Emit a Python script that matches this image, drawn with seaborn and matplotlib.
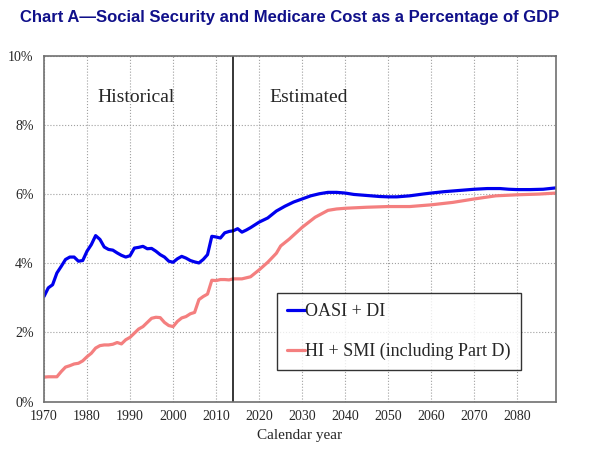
import pandas as pd
import seaborn as sns
import matplotlib.pyplot as plt
from matplotlib.ticker import MultipleLocator, FuncFormatter

# OASI + DI cost, % of GDP
oasdi_years = [1970, 1971, 1972, 1973, 1974, 1975, 1976, 1977, 1978, 1979,
               1980, 1981, 1982, 1983, 1984, 1985, 1986, 1987, 1988, 1989,
               1990, 1991, 1992, 1993, 1994, 1995, 1996, 1997, 1998, 1999,
               2000, 2001, 2002, 2003, 2004, 2005, 2006, 2007, 2008, 2009,
               2010, 2011, 2012, 2013, 2014, 2015, 2016, 2017, 2018, 2019,
               2020, 2022, 2024, 2026, 2028, 2030, 2032, 2034, 2036, 2038,
               2040, 2042, 2045, 2048, 2050, 2052, 2055, 2058, 2060, 2063,
               2066, 2070, 2073, 2076, 2078, 2080, 2083, 2086, 2089]
oasdi = [3.04, 3.29, 3.38, 3.72, 3.91, 4.11, 4.18, 4.18, 4.06, 4.08,
         4.35, 4.54, 4.80, 4.69, 4.47, 4.40, 4.38, 4.30, 4.23, 4.18,
         4.22, 4.44, 4.46, 4.49, 4.42, 4.43, 4.35, 4.25, 4.18, 4.06,
         4.03, 4.13, 4.20, 4.15, 4.08, 4.04, 4.01, 4.11, 4.25, 4.78,
         4.76, 4.73, 4.88, 4.92, 4.94, 5.00, 4.90, 4.96, 5.03, 5.11,
         5.19, 5.31, 5.51, 5.65, 5.77, 5.86, 5.95, 6.01, 6.05, 6.05,
         6.03, 5.99, 5.96, 5.93, 5.92, 5.92, 5.95, 6.00, 6.03, 6.07,
         6.10, 6.14, 6.16, 6.16, 6.14, 6.13, 6.13, 6.14, 6.18]

# HI + SMI cost, % of GDP
hismi_years = [1970, 1971, 1972, 1973, 1974, 1975, 1976, 1977, 1978, 1979,
               1980, 1981, 1982, 1983, 1984, 1985, 1986, 1987, 1988, 1989,
               1990, 1991, 1992, 1993, 1994, 1995, 1996, 1997, 1998, 1999,
               2000, 2001, 2002, 2003, 2004, 2005, 2006, 2007, 2008, 2009,
               2010, 2011, 2012, 2013, 2014, 2016, 2018, 2020, 2022, 2024,
               2025, 2027, 2030, 2033, 2036, 2038, 2040, 2045, 2050, 2055,
               2060, 2065, 2070, 2075, 2080, 2085, 2089]
hismi = [0.71, 0.72, 0.72, 0.72, 0.87, 1.00, 1.04, 1.09, 1.11, 1.18,
         1.30, 1.40, 1.55, 1.62, 1.64, 1.64, 1.66, 1.71, 1.67, 1.79,
         1.86, 1.98, 2.10, 2.17, 2.29, 2.41, 2.44, 2.43, 2.29, 2.20,
         2.17, 2.32, 2.42, 2.46, 2.54, 2.58, 2.95, 3.04, 3.11, 3.51,
         3.50, 3.53, 3.53, 3.52, 3.55, 3.55, 3.61, 3.81, 4.03, 4.29,
         4.50, 4.70, 5.04, 5.33, 5.53, 5.57, 5.59, 5.62, 5.64, 5.64,
         5.69, 5.76, 5.86, 5.95, 5.98, 6.00, 6.03]

series_names = ['OASI + DI', 'HI + SMI (including Part D)']

df = pd.concat([
    pd.DataFrame({'year': oasdi_years, 'pct': oasdi, 'series': series_names[0]}),
    pd.DataFrame({'year': hismi_years, 'pct': hismi, 'series': series_names[1]}),
])

sns.set_style('white')
plt.rcParams['font.family'] = ['Liberation Serif', 'DejaVu Serif']

fig = plt.figure(figsize=(6.06, 4.68), dpi=100)
ax = fig.add_axes([0.0726, 0.1417, 0.845, 0.7393])

sns.lineplot(data=df, x='year', y='pct', hue='series', hue_order=series_names,
             palette=['#0000EE', '#F47F7F'], linewidth=2.3, ax=ax)

ax.axvline(2014, color='black', linewidth=1.1)

ax.set_xlim(1970, 2089)
ax.set_ylim(0, 10)
ax.xaxis.set_major_locator(MultipleLocator(10))
ax.xaxis.set_minor_locator(MultipleLocator(2))
ax.yaxis.set_major_locator(MultipleLocator(2))
ax.yaxis.set_minor_locator(MultipleLocator(0.5))
ax.yaxis.set_major_formatter(FuncFormatter(lambda v, p: f'{v:.0f}%'))
ax.grid(True, which='major', color='#A0A0A0', linestyle=':', linewidth=0.8)
ax.tick_params(which='both', direction='out', color='#555555', labelsize=10)
ax.tick_params(which='major', length=4)
ax.tick_params(which='minor', length=2.5)
ax.tick_params(axis='x', pad=2)
for s in ax.spines.values():
    s.set_color('#707070')
    s.set_linewidth(1.2)

ax.set_xlabel('Calendar year', fontsize=11)
ax.set_ylabel('')

ax.text(1991.3, 8.8, 'Historical', fontsize=14, ha='center', va='center')
ax.text(2031.6, 8.8, 'Estimated', fontsize=14, ha='center', va='center')

leg = ax.legend(loc='lower left', bbox_to_anchor=(0.456, 0.0916, 0.475, 0.2244),
                mode='expand', fontsize=13, frameon=True, fancybox=False,
                edgecolor='black', handlelength=0.95, handletextpad=0.0,
                labelspacing=1.25, borderpad=0.55, borderaxespad=0)
leg.get_frame().set_linewidth(1.0)

fig.text(0.033, 0.962, 'Chart A\u2014Social Security and Medicare Cost as a Percentage of GDP',
         fontsize=12, fontweight='bold', color='#10108A', family='Liberation Sans',
         va='center', ha='left')

fig.savefig('out.png', dpi=100)
